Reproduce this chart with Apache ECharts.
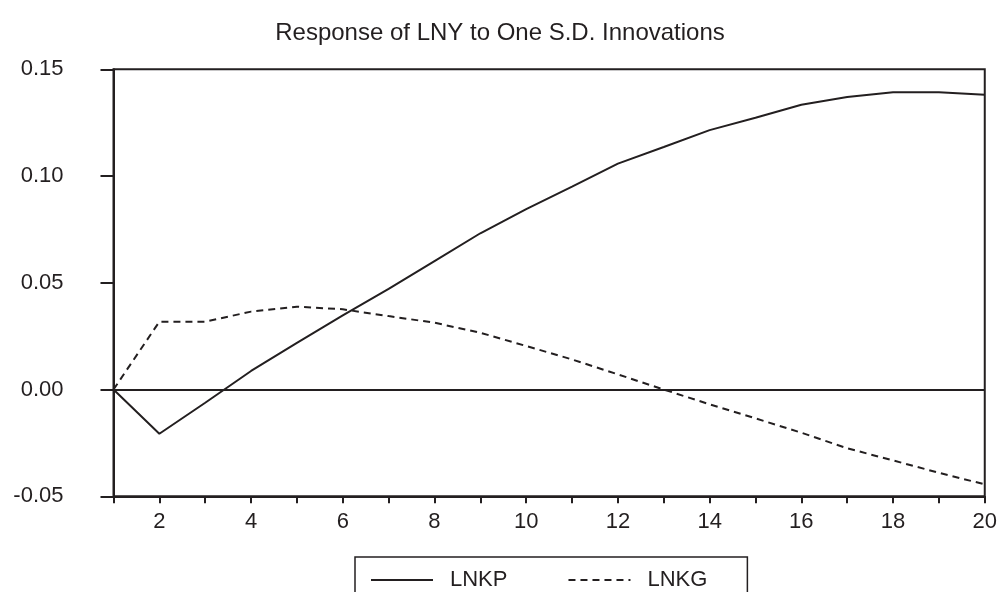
<!DOCTYPE html>
<html>
<head>
<meta charset="utf-8">
<script src="https://cdn.jsdelivr.net/npm/echarts@6/dist/echarts.min.js"></script>
<style>html,body{margin:0;padding:0;background:#fff}#c{width:1000px;height:592px}</style>
</head>
<body>
<div id="c"></div>
<script>
var periods = [1,2,3,4,5,6,7,8,9,10,11,12,13,14,15,16,17,18,19,20];
var lnkp = [0.0, -0.0207, -0.0062, 0.0087, 0.0219, 0.0347, 0.0472, 0.0602, 0.0732, 0.0845, 0.0950, 0.1058, 0.1136, 0.1215, 0.1273, 0.1334, 0.1370, 0.1392, 0.1392, 0.1381];
var lnkg = [0.0, 0.0318, 0.0318, 0.0365, 0.0388, 0.0376, 0.0344, 0.0313, 0.0266, 0.0204, 0.0141, 0.0071, 0.0000, -0.0069, -0.0135, -0.0202, -0.0275, -0.0332, -0.0390, -0.0444];
var titleText = 'Response of LNY to One S.D. Innovations';
var seriesNames = ['LNKP', 'LNKG'];

var ink = '#231f20';
var font = 'Liberation Sans, Arial, sans-serif';
var chart = echarts.init(document.getElementById('c'), null, {renderer: 'canvas'});
function pairs(v){ return periods.map(function(p,i){ return [p, v[i]]; }); }
chart.setOption({
  animation: false,
  backgroundColor: '#fff',
  title: {
    text: titleText, left: 'center', top: 16,
    textStyle: {fontFamily: font, fontSize: 24, fontWeight: 'normal', color: ink}
  },
  grid: {left: 113.5, right: 4.3, top: 69.3, bottom: 95.7, show: true, borderColor: ink, borderWidth: 2, backgroundColor: 'transparent'},
  xAxis: {
    type: 'value', min: 1, max: 20, interval: 1,
    axisLine: {show: true, onZero: false, lineStyle: {color: ink, width: 2}},
    axisTick: {show: true, inside: false, length: 7, lineStyle: {color: ink, width: 2}},
    splitLine: {show: false},
    axisLabel: {
      margin: 15, color: ink, fontFamily: font, fontSize: 22,
      formatter: function(v){ return (v % 2 === 0) ? String(v) : ''; }
    }
  },
  yAxis: {
    type: 'value', min: -0.05, max: 0.15, interval: 0.05,
    axisLine: {show: true, onZero: false, lineStyle: {color: ink, width: 2}},
    axisTick: {show: true, inside: false, length: 13, lineStyle: {color: ink, width: 2}},
    splitLine: {show: false},
    axisLabel: {
      margin: 50, color: ink, fontFamily: font, fontSize: 22,
      formatter: function(v){ return v.toFixed(2); }
    }
  },
  legend: {
    left: 355, top: 557,
    padding: [12, 40, 12, 15],
    itemGap: 60, itemWidth: 62, itemHeight: 14,
    borderColor: ink, borderWidth: 1.5,
    itemStyle: {opacity: 0},
    textStyle: {fontFamily: font, fontSize: 22, color: ink, padding: [0, 0, 0, 12]},
    data: seriesNames
  },
  series: [
    {
      name: seriesNames[0], type: 'line', data: pairs(lnkp),
      symbol: 'none', lineStyle: {color: ink, width: 2, type: 'solid'}, itemStyle: {color: ink},
      markLine: {
        silent: true, symbol: ['none','none'], label: {show: false},
        lineStyle: {color: ink, width: 2.2, type: 'solid'},
        data: [{yAxis: 0}]
      }
    },
    {
      name: seriesNames[1], type: 'line', data: pairs(lnkg),
      symbol: 'none', lineStyle: {color: ink, width: 2, type: [7, 5]}, itemStyle: {color: ink}
    }
  ]
});
</script>
</body>
</html>
